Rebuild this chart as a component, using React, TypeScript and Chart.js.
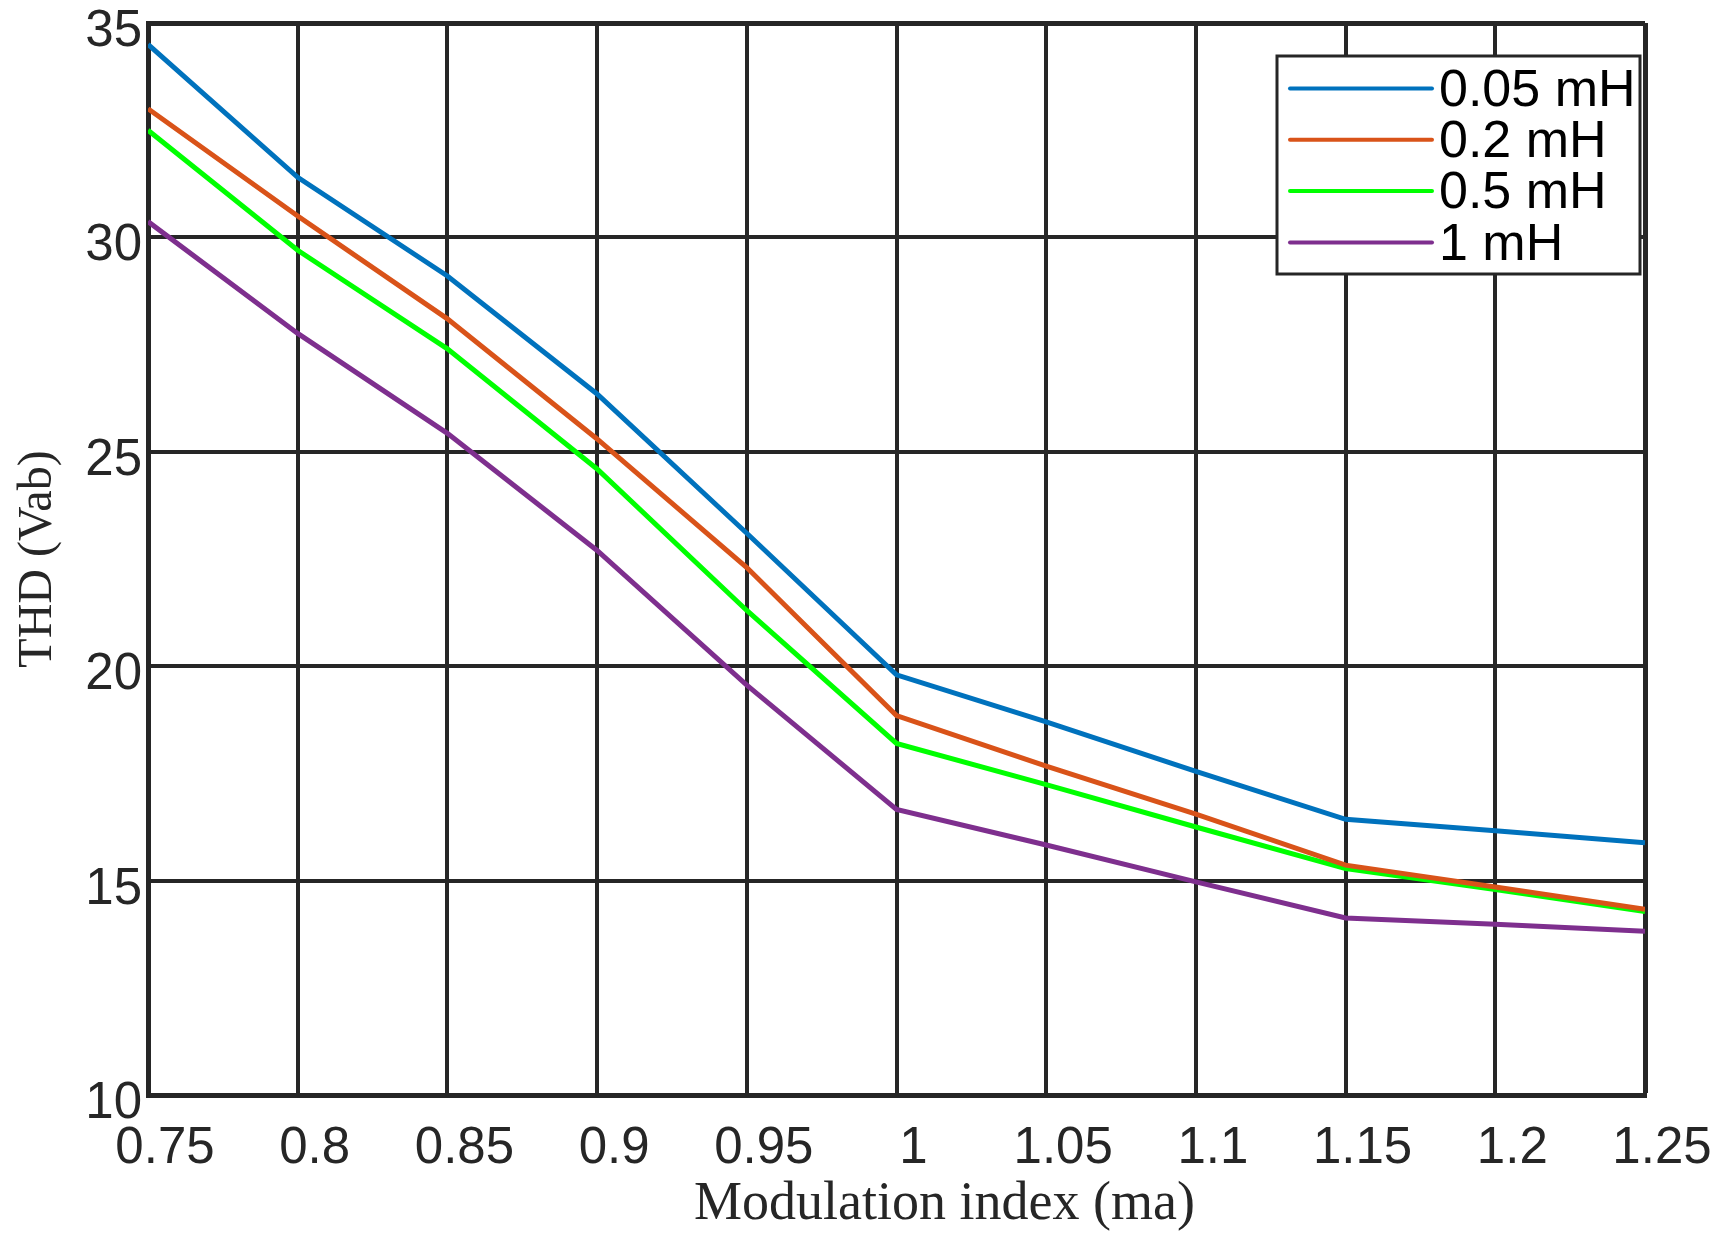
import { useEffect, useRef } from 'react'
import { Chart, registerables } from 'chart.js'

Chart.register(...registerables)

// modulation index (x) and tick labels
const modIndex = [0.75, 0.8, 0.85, 0.9, 0.95, 1, 1.05, 1.1, 1.15, 1.2, 1.25]
const xTickLabels = ['0.75', '0.8', '0.85', '0.9', '0.95', '1', '1.05', '1.1', '1.15', '1.2', '1.25']
const yTicks = [10, 15, 20, 25, 30, 35]

// THD (Vab) per filter inductance
const seriesLabels = ['0.05 mH', '0.2 mH', '0.5 mH', '1 mH']
const thd005 = [34.5, 31.4, 29.1, 26.35, 23.1, 19.8, 18.7, 17.55, 16.43, 16.16, 15.88]
const thd02 = [33.0, 30.5, 28.1, 25.3, 22.3, 18.85, 17.67, 16.55, 15.36, 14.85, 14.33]
const thd05 = [32.5, 29.7, 27.4, 24.6, 21.3, 18.2, 17.24, 16.25, 15.28, 14.79, 14.28]
const thd1 = [30.37, 27.76, 25.43, 22.7, 19.56, 16.66, 15.83, 14.97, 14.13, 13.98, 13.82]

const seriesColors = ['#0072BD', '#D95319', '#00FF00', '#7E2F8E']
const INK = '#262626'

// legend box inside the axes (top right) + x axis title
const boxLegend = {
  id: 'boxLegend',
  afterDraw(chart: any) {
    const { ctx, chartArea } = chart
    const boxRight = chartArea.right - 5
    const boxLeft = boxRight - 363
    const boxTop = chartArea.top + 33
    const rowH = 51.3
    const boxH = 218

    ctx.save()
    ctx.fillStyle = '#ffffff'
    ctx.fillRect(boxLeft, boxTop, boxRight - boxLeft, boxH)
    ctx.strokeStyle = INK
    ctx.lineWidth = 3
    ctx.strokeRect(boxLeft, boxTop, boxRight - boxLeft, boxH)

    ctx.font = '52px "Liberation Sans", Arial, sans-serif'
    ctx.textAlign = 'left'
    ctx.textBaseline = 'middle'
    chart.data.datasets.forEach((ds: any, i: number) => {
      const y = boxTop + 32.5 + i * rowH
      ctx.strokeStyle = ds.borderColor
      ctx.lineWidth = 4
      ctx.lineCap = 'round'
      ctx.beginPath()
      ctx.moveTo(boxLeft + 13, y)
      ctx.lineTo(boxLeft + 155, y)
      ctx.stroke()
      ctx.fillStyle = '#000000'
      ctx.fillText(ds.label, boxLeft + 162, y + 3)
    })

    // x axis title (sits a bit right of centre in the original)
    ctx.font = '54px "Liberation Serif", "Times New Roman", serif'
    ctx.fillStyle = INK
    ctx.textAlign = 'center'
    ctx.fillText('Modulation index (ma)', (chartArea.left + chartArea.right) / 2 + 48, chartArea.bottom + 110)
    ctx.restore()
  },
}

export default function App() {
  const chartRef = useRef<HTMLCanvasElement>(null)
  const chartInstance = useRef<Chart | null>(null)

  useEffect(() => {
    if (!chartRef.current) return
    if (chartInstance.current) chartInstance.current.destroy()
    const ctx = chartRef.current.getContext('2d')
    if (!ctx) return

    const seriesData = [thd005, thd02, thd05, thd1]
    const datasets = seriesData.map((vals, i) => ({
      label: seriesLabels[i],
      data: vals.map((v, j) => ({ x: modIndex[j], y: v })),
      borderColor: seriesColors[i],
      backgroundColor: seriesColors[i],
      borderWidth: 5,
      pointRadius: 0,
      fill: false,
      tension: 0,
    }))

    const tickFont = { family: '"Liberation Sans", Arial, sans-serif', size: 51 }

    chartInstance.current = new Chart(ctx, {
      type: 'line',
      data: { datasets },
      plugins: [boxLegend],
      options: {
        animation: false,
        responsive: true,
        maintainAspectRatio: false,
        layout: { padding: { top: 23, right: 82, left: 0, bottom: 0 } },
        plugins: {
          legend: { display: false },
          tooltip: { enabled: false },
        },
        scales: {
          x: {
            type: 'linear',
            min: 0.75,
            max: 1.25,
            afterBuildTicks: (scale: any) => {
              scale.ticks = modIndex.map(v => ({ value: v }))
            },
            afterFit: (scale: any) => {
              scale.height = 146
              scale.paddingLeft = 0
              scale.paddingRight = 0
            },
            ticks: {
              callback: (_v: any, i: number) => xTickLabels[i],
              font: tickFont,
              color: INK,
              padding: 23,
              labelOffset: 17,
              maxRotation: 0,
              autoSkip: false,
            },
            grid: {
              color: INK,
              lineWidth: (c: any) => (c.tick && c.tick.value === 1.25 ? 5 : 4),
              drawTicks: false,
            },
            border: { display: true, color: INK, width: 5 },
          },
          y: {
            type: 'linear',
            min: 10,
            max: 35,
            afterBuildTicks: (scale: any) => {
              scale.ticks = yTicks.map(v => ({ value: v }))
            },
            afterFit: (scale: any) => {
              scale.width = 148
              scale.paddingTop = 0
              scale.paddingBottom = 0
            },
            ticks: {
              callback: (v: any) => String(v),
              font: tickFont,
              color: INK,
              padding: 6,
              labelOffset: 9,
            },
            grid: {
              color: INK,
              lineWidth: (c: any) => (c.tick && c.tick.value === 35 ? 5 : 4),
              drawTicks: false,
            },
            border: { display: true, color: INK, width: 5 },
            title: {
              display: true,
              text: 'THD (Vab)',
              color: INK,
              font: { family: '"Liberation Serif", "Times New Roman", serif', size: 48 },
              padding: { top: 10, bottom: 0 },
            },
          },
        },
      },
    })

    return () => {
      if (chartInstance.current) {
        chartInstance.current.destroy()
        chartInstance.current = null
      }
    }
  }, [])

  return (
    <div style={{ position: 'fixed', left: 0, top: 0, width: 1727, height: 1241, background: '#ffffff' }}>
      <canvas ref={chartRef} />
    </div>
  )
}
